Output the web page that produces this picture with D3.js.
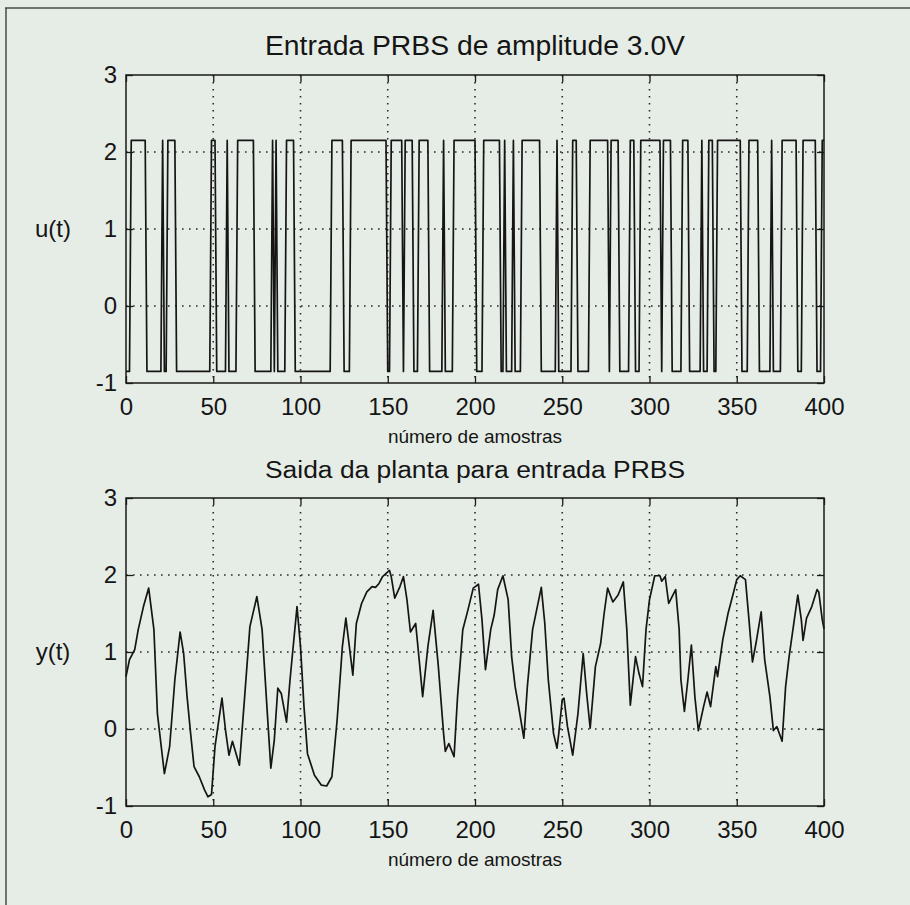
<!DOCTYPE html>
<html lang="pt">
<head>
<meta charset="UTF-8">
<title>Entrada PRBS e saida da planta</title>
<style>
  body { margin: 0; background: #e6ede7; }
  svg { display: block; }
  text { font-family: "Liberation Sans", Arial, sans-serif; fill: #151515; }
</style>
</head>
<body>
<svg id="svg" width="910" height="905"></svg>

<script src="https://d3js.org/d3.v7.min.js"></script>
<script>
// ------ DATA ------
const xTicks = [0, 50, 100, 150, 200, 250, 300, 350, 400]
const yTicks = [-1, 0, 1, 2, 3]
const nSamples = 400

// PRBS levels and the sample ranges where the input is high
const uLow = -0.85
const uHigh = 2.15
const highStart = [3, 21, 24, 49, 58, 64, 84, 86, 92, 118, 129, 152, 160, 168, 182, 188, 205, 217, 222, 227,
  247, 256, 266, 278, 289, 295, 308, 319, 330, 334, 339, 357, 370, 376, 388, 399]
const highEnd = [11, 21, 28, 51, 58, 73, 84, 86, 96, 124, 149, 158, 164, 173, 182, 200, 214, 217, 222, 237,
  247, 258, 276, 282, 291, 306, 312, 322, 330, 336, 352, 362, 370, 384, 395, 400]

// plant output, key points (sample, value)
const ySamples = [0, 2, 5, 7, 10, 13, 16, 18, 22, 25, 28, 31, 33, 35, 37, 39, 42, 45, 47, 49,
  51, 55, 57, 59, 61, 65, 68, 71, 75, 78, 81, 83, 85, 87, 89, 92, 94, 98, 100, 102,
  104, 108, 112, 115, 118, 121, 124, 126, 128, 130, 132, 135, 138, 141, 143, 145, 147, 151, 152, 154,
  157, 159, 161, 163, 166, 168, 170, 173, 176, 179, 182, 183, 185, 188, 190, 193, 196, 199, 202, 204,
  206, 209, 211, 213, 216, 219, 221, 223, 225, 228, 230, 233, 238, 240, 242, 245, 247, 248, 250, 251,
  253, 256, 259, 262, 264, 266, 269, 272, 274, 276, 279, 282, 285, 287, 289, 292, 294, 296, 298, 300,
  303, 306, 307, 309, 311, 315, 317, 318, 320, 322, 324, 326, 328, 331, 333, 335, 338, 339, 342, 345,
  348, 350, 352, 355, 357, 359, 361, 364, 366, 369, 371, 373, 376, 378, 380, 383, 385, 387, 388, 390,
  393, 396, 397, 399, 400]
const yValues = [0.68, 0.9, 1.03, 1.29, 1.59, 1.83, 1.29, 0.2, -0.58, -0.23, 0.64, 1.26, 0.99, 0.42, -0.05, -0.49, -0.62, -0.79, -0.88, -0.85,
  -0.23, 0.4, -0.01, -0.34, -0.16, -0.47, 0.42, 1.33, 1.72, 1.29, 0.2, -0.51, -0.14, 0.53, 0.46, 0.09, 0.64, 1.59, 1.07, 0.29,
  -0.32, -0.6, -0.73, -0.74, -0.62, 0.12, 1.07, 1.44, 1.07, 0.7, 1.37, 1.63, 1.78, 1.85, 1.84, 1.89, 1.98, 2.06, 1.98, 1.7,
  1.85, 1.98, 1.68, 1.26, 1.37, 0.9, 0.42, 1.07, 1.54, 0.81, -0.06, -0.29, -0.19, -0.36, 0.42, 1.29, 1.55, 1.83, 1.88, 1.42,
  0.77, 1.29, 1.48, 1.81, 1.99, 1.68, 0.94, 0.55, 0.29, -0.12, 0.55, 1.29, 1.84, 1.37, 0.64, -0.06, -0.25, -0.06, 0.38, 0.4,
  0.03, -0.34, 0.2, 0.98, 0.46, 0.01, 0.81, 1.11, 1.5, 1.83, 1.65, 1.74, 1.91, 1.29, 0.31, 0.94, 0.72, 0.55, 1.29, 1.68,
  1.99, 1.99, 1.92, 1.98, 1.63, 1.81, 1.29, 0.64, 0.23, 0.64, 1.09, 0.42, -0.02, 0.29, 0.48, 0.29, 0.81, 0.68, 1.16, 1.5,
  1.76, 1.94, 1.99, 1.94, 1.42, 0.87, 1.11, 1.52, 0.9, 0.42, -0.02, 0.03, -0.16, 0.55, 0.94, 1.42, 1.74, 1.42, 1.15, 1.44,
  1.59, 1.81, 1.78, 1.42, 1.3]

// ------ BUILD SERIES ------
const uSeries = d3.range(nSamples + 1).map(t => {
  const on = highStart.some((s, i) => t >= s && t <= highEnd[i])
  return { t: t, v: on ? uHigh : uLow }
})
const ySeries = ySamples.map((t, i) => ({ t: t, v: yValues[i] }))

// ------ DRAW ------
const svg = d3.select('#svg')
const left = 126
const right = 824

// page frame (top and left edge of the scanned figure)
svg.append('line').attr('x1', 5).attr('x2', 910).attr('y1', 8).attr('y2', 8)
  .attr('stroke', '#4a4a4a').attr('stroke-width', 1.5)
svg.append('line').attr('x1', 6).attr('x2', 6).attr('y1', 8).attr('y2', 905)
  .attr('stroke', '#4a4a4a').attr('stroke-width', 1.5)

const minus = d => d < 0 ? '-' + Math.abs(d) : String(d)

function drawPanel(cfg) {
  const x = d3.scaleLinear().domain([0, nSamples]).range([left, right])
  const y = d3.scaleLinear().domain([-1, 3]).range([cfg.bottom, cfg.top])
  const g = svg.append('g')

  // dotted grid
  g.selectAll('.gx').data(xTicks.slice(1, -1)).join('line')
    .attr('x1', d => x(d)).attr('x2', d => x(d))
    .attr('y1', cfg.top).attr('y2', cfg.bottom)
    .attr('stroke', '#2a2a2a').attr('stroke-width', 1.6).attr('stroke-dasharray', '1.6,5.4')
  g.selectAll('.gy').data(yTicks.slice(1, -1)).join('line')
    .attr('x1', left).attr('x2', right)
    .attr('y1', d => y(d)).attr('y2', d => y(d))
    .attr('stroke', '#2a2a2a').attr('stroke-width', 1.6).attr('stroke-dasharray', '1.6,5.4')

  // axes with inward ticks
  const styleAxis = sel => {
    sel.select('.domain').remove()
    sel.selectAll('.tick line').attr('stroke', '#1a1a1a').attr('stroke-width', 1.3)
    sel.selectAll('.tick text').attr('fill', '#151515')
      .style('font-family', '"Liberation Sans", Arial, sans-serif').style('font-size', '24px')
  }
  g.append('g').attr('transform', `translate(0,${cfg.bottom})`)
    .call(d3.axisBottom(x).tickValues(xTicks).tickSize(-7).tickPadding(15).tickFormat(minus))
    .call(styleAxis)
  g.append('g').attr('transform', `translate(0,${cfg.top})`)
    .call(d3.axisTop(x).tickValues(xTicks).tickSize(-7).tickFormat(''))
    .call(styleAxis)
  g.append('g').attr('transform', `translate(${left},0)`)
    .call(d3.axisLeft(y).tickValues(yTicks).tickSize(-7).tickPadding(9).tickFormat(minus))
    .call(styleAxis)
  g.append('g').attr('transform', `translate(${right},0)`)
    .call(d3.axisRight(y).tickValues(yTicks).tickSize(-7).tickFormat(''))
    .call(styleAxis)

  // box
  g.append('rect').attr('x', left).attr('y', cfg.top)
    .attr('width', right - left).attr('height', cfg.bottom - cfg.top)
    .attr('fill', 'none').attr('stroke', '#1a1a1a').attr('stroke-width', 1.5)

  // data line
  const line = d3.line().x(d => x(d.t)).y(d => y(d.v))
  g.append('path').datum(cfg.data).attr('d', line)
    .attr('fill', 'none').attr('stroke', '#151515').attr('stroke-width', 1.7)
    .attr('stroke-linejoin', 'round')

  // texts
  g.append('text').attr('x', (left + right) / 2).attr('y', cfg.top - 20)
    .attr('text-anchor', 'middle')
    .style('font-family', cfg.titleFont).style('font-size', cfg.titleSize + 'px')
    .attr('textLength', 420).attr('lengthAdjust', 'spacingAndGlyphs')
    .text(cfg.title)
  g.append('text').attr('x', (left + right) / 2).attr('y', cfg.bottom + 60)
    .attr('text-anchor', 'middle').style('font-size', '19px')
    .text('número de amostras')
  g.append('text').attr('x', 53).attr('y', y(1) + 8)
    .attr('text-anchor', 'middle').style('font-size', '24px')
    .text(cfg.ylabel)
}

drawPanel({ top: 75, bottom: 383, data: uSeries, title: 'Entrada PRBS de amplitude 3.0V',
  titleSize: 27, titleFont: '"Liberation Sans Narrow", "Liberation Sans", Arial, sans-serif', ylabel: 'u(t)' })
drawPanel({ top: 498, bottom: 806, data: ySeries, title: 'Saida da planta para entrada PRBS',
  titleSize: 23, titleFont: '"Liberation Sans", Arial, sans-serif', ylabel: 'y(t)' })
</script>
</body>
</html>
